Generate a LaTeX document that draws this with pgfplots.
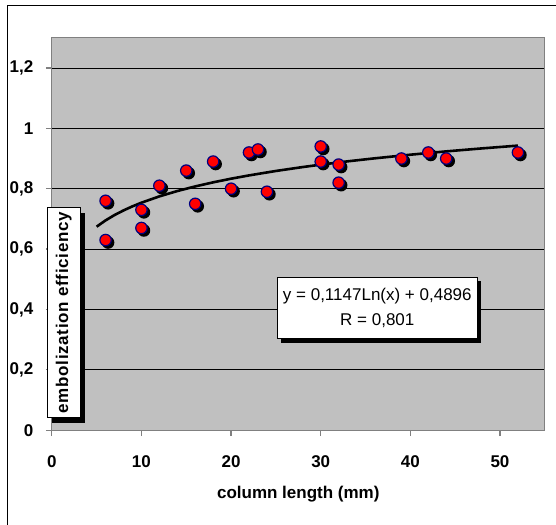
\documentclass[border=0pt]{standalone}
\usepackage{fontspec}
\setmainfont{Liberation Sans}
\usepackage{pgfplots}
\pgfplotsset{compat=1.18}
\definecolor{plotbg}{RGB}{192,192,192}
\definecolor{axgray}{RGB}{128,128,128}
\definecolor{navy}{RGB}{0,0,128}
\newcommand{\chfont}{\fontsize{17bp}{20bp}\selectfont}
\pgfdeclareplotmark{shadowdot}{%
  \pgfpathcircle{\pgfpoint{2.5bp}{-2.5bp}}{\pgfplotmarksize}\pgfusepathqfill}
\begin{document}
\begin{tikzpicture}[x=1bp,y=1bp]
\clip (-51.8,-94.8) rectangle (504.2,430.2);
\fill[white] (-51.8,-94.8) rectangle (504.2,430.2);
\draw[black, line width=1bp] (-44,424.5) rectangle (600,-200);
\begin{axis}[
  at={(0,0)}, anchor=south west,
  width=493bp, height=392.4bp, scale only axis,
  xmin=0, xmax=55, ymin=0, ymax=1.3,
  axis background/.style={fill=plotbg},
  axis line style={axgray, line width=1.2bp},
  ymajorgrids, grid style={black, line width=0.8bp},
  xtick={0,10,20,30,40,50}, xticklabels={0,10,20,30,40,50},
  ytick={0,0.2,0.4,0.6,0.8,1,1.2},
  yticklabels={0,{0,2},{0,4},{0,6},{0,8},1,{1,2}},
  tick align=outside, major tick length=6bp,
  xtick pos=bottom, ytick pos=left,
  tick style={axgray, line width=1.2bp},
  ticklabel style={font=\chfont\bfseries},
  yticklabel style={xshift=-9bp},
  xticklabel style={yshift=-16bp},
  xlabel={column length (mm)},
  xlabel style={font=\chfont\bfseries, at={(axis description cs:0.5,0)}, anchor=center, yshift=-63.6bp},
  clip=false,
]
\addplot[black, line width=2.6bp, no marks] coordinates {
(5,0.6742) (6,0.6951) (7,0.7128) (8,0.7281) (9,0.7416) (10,0.7537) (12,0.7746) (14,0.7923) (16,0.8076) (18,0.8211) (20,0.8332) (22,0.8441) (25,0.8588) (28,0.8718) (30,0.8797) (33,0.8907) (36,0.9006) (40,0.9127) (44,0.9237) (48,0.9336) (52,0.9428)
};
\addplot[only marks, mark=shadowdot, mark size=6.3bp, mark options={fill=black, draw=black}] coordinates {
(6,0.76) (6,0.63) (10,0.73) (10,0.67) (12,0.81) (15,0.86) (16,0.75) (18,0.89) (20,0.80) (22,0.92) (23,0.93) (24,0.79) (30,0.94) (30,0.89) (32,0.88) (32,0.82) (39,0.90) (42,0.92) (44,0.90) (52,0.92)
};
\addplot[only marks, mark=*, mark size=5.7bp, mark options={fill=red, draw=navy, line width=1.2bp}] coordinates {
(6,0.76) (6,0.63) (10,0.73) (10,0.67) (12,0.81) (15,0.86) (16,0.75) (18,0.89) (20,0.80) (22,0.92) (23,0.93) (24,0.79) (30,0.94) (30,0.89) (32,0.88) (32,0.82) (39,0.90) (42,0.92) (44,0.90) (52,0.92)
};
\end{axis}
% y label box with shadow
\fill[black] (0.7,7.4) rectangle (33.2,217.6);
\node[draw=black, fill=white, line width=0.8bp, minimum width=210.2bp, minimum height=32.5bp, inner sep=0, rotate=90, font=\chfont\bfseries\addfontfeature{LetterSpace=4}] at (11.95,117.5) {embolization efficiency};
% equation box with shadow
\fill[black] (229.5,87.4) rectangle (429.5,149);
\node[draw=black, fill=white, line width=0.8bp, minimum width=200bp, minimum height=61.6bp, inner sep=0, align=center, font=\fontsize{17bp}{24.7bp}\selectfont] at (325.5,122.2) {y = 0,1147Ln(x) + 0,4896\\R = 0,801};
\end{tikzpicture}
\end{document}
